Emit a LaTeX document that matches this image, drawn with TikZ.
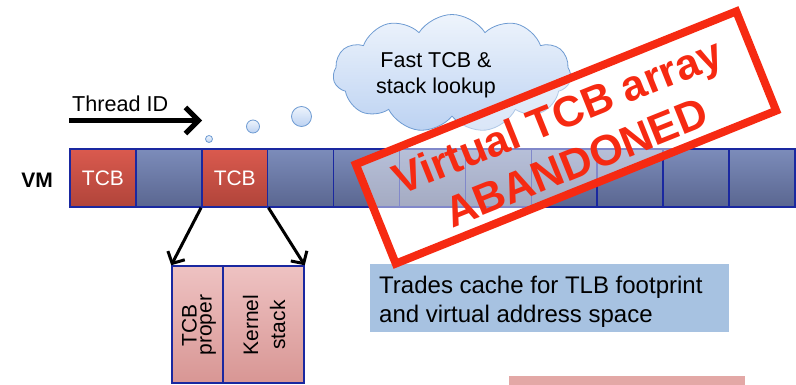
\documentclass[tikz,border=0pt]{standalone}
\usepackage{fontspec}
\setmainfont{Liberation Sans}
\usetikzlibrary{arrows.meta,shapes.symbols}

\definecolor{cellTop}{RGB}{124,140,186}
\definecolor{cellBot}{RGB}{90,102,144}
\definecolor{cellEdge}{RGB}{26,40,160}
\definecolor{tcbTop}{RGB}{218,90,78}
\definecolor{tcbBot}{RGB}{176,68,58}
\definecolor{blkTop}{RGB}{238,194,194}
\definecolor{blkBot}{RGB}{216,150,148}
\definecolor{cloudEdge}{RGB}{110,155,210}
\definecolor{cloudTop}{RGB}{238,244,252}
\definecolor{cloudBot}{RGB}{188,210,242}
\definecolor{tradeBlue}{RGB}{167,194,225}
\definecolor{barPink}{RGB}{227,168,166}
\definecolor{stampRed}{RGB}{246,42,18}

\tikzset{
  cell/.style={draw=cellEdge, line width=1.5pt, top color=cellTop, bottom color=cellBot,
    minimum width=65.9pt, minimum height=58pt, inner sep=0pt},
  tcbcell/.style={cell, top color=tcbTop, bottom color=tcbBot, text=white,
    font=\fontsize{21}{25}\selectfont},
  blk/.style={draw=cellEdge, line width=1.5pt, top color=blkTop, bottom color=blkBot,
    minimum height=117pt, inner sep=0pt},
  bubble/.style={circle, draw=cloudEdge, line width=0.8pt, top color=cloudTop,
    bottom color=cloudBot, inner sep=0pt},
  conn/.style={line width=3pt, -{Straight Barb[length=9pt,width=19pt]}},
  stamptext/.style={text=stampRed, font=\bfseries\fontsize{43}{50}\selectfont,
    rotate=21.9, anchor=base, inner sep=0pt},
}

\begin{document}
\begin{tikzpicture}[x=1pt,y=-1pt]
\useasboundingbox (0,0) rectangle (796,385);

% virtual memory array
\node[font=\bfseries\fontsize{21}{25}\selectfont] (vm) at (37,180) {VM};
\foreach \i in {0,...,10}
  \node[cell] (c\i) at ({70+65.9*(\i+0.5)},178) {};
\node[tcbcell] (t0) at ({70+65.9*0.5},178) {TCB};
\node[tcbcell] (t2) at ({70+65.9*2.5},178) {TCB};

% thread ID lookup
\node[anchor=base west, inner sep=0pt, font=\fontsize{21.6}{26}\selectfont] (tid) at (72,112) {Thread ID};
\coordinate (tidS) at (69,120.5);
\coordinate (tidE) at (202,120.5);
\draw[line width=5pt, -{Straight Barb[length=13pt,width=26pt]}] (tidS) -- (tidE);

% thought bubbles and cloud
\node[bubble, minimum size=7pt] (b1) at (209,139) {};
\node[bubble, minimum size=13pt] (b2) at (253,126.5) {};
\node[bubble, minimum size=20pt] (b3) at (301.5,116.5) {};
\node[cloud, cloud puffs=11, cloud puff arc=115, aspect=1.9, draw=cloudEdge, line width=0.8pt,
  top color=cloudTop, bottom color=cloudBot, minimum width=238pt, minimum height=118pt,
  inner sep=0pt] (cloud) at (452,73.5) {};
\node[align=center, font=\fontsize{21.5}{26}\selectfont] (cloudtext) at (436,75) {Fast TCB \&\\stack lookup};

% TCB layout
\node[blk, minimum width=51pt] (prop) at (197.5,324.5) {};
\node[blk, minimum width=81pt] (stk) at (263.5,324.5) {};
\node[rotate=90, align=center, inner sep=0pt, font=\fontsize{21}{15}\selectfont] (proptext) at (199,325) {TCB\\proper};
\node[rotate=90, align=center, inner sep=0pt, font=\fontsize{21}{27}\selectfont] (stktext) at (264,325) {Kernel\\stack};
\draw[conn] (t2.south west) -- (prop.north west);
\draw[conn] (t2.south east) -- (stk.north east);

% note
\node[fill=tradeBlue, anchor=north west, minimum width=359pt, minimum height=68pt, inner sep=0pt] (trade) at (370,264) {};
\node[anchor=north west, align=left, inner sep=0pt, font=\fontsize{24}{29}\selectfont] (tradetext) at (379,275.5)
  {Trades cache for TLB footprint\\and virtual address space};

\node[fill=barPink, anchor=north west, minimum width=236pt, minimum height=12pt, inner sep=0pt] (bar) at (509,376) {};

% stamp
\node[draw=stampRed, line width=8pt, fill=white, fill opacity=0.45, rotate=21.9,
  minimum width=410pt, minimum height=107pt, inner sep=0pt] (stamp) at (566,137.5) {};
\node[stamptext] (s1) at (563,130) {Virtual TCB array};
\node[stamptext] (s2) at (581.75,176.4) {ABANDONED};
\end{tikzpicture}
\end{document}
